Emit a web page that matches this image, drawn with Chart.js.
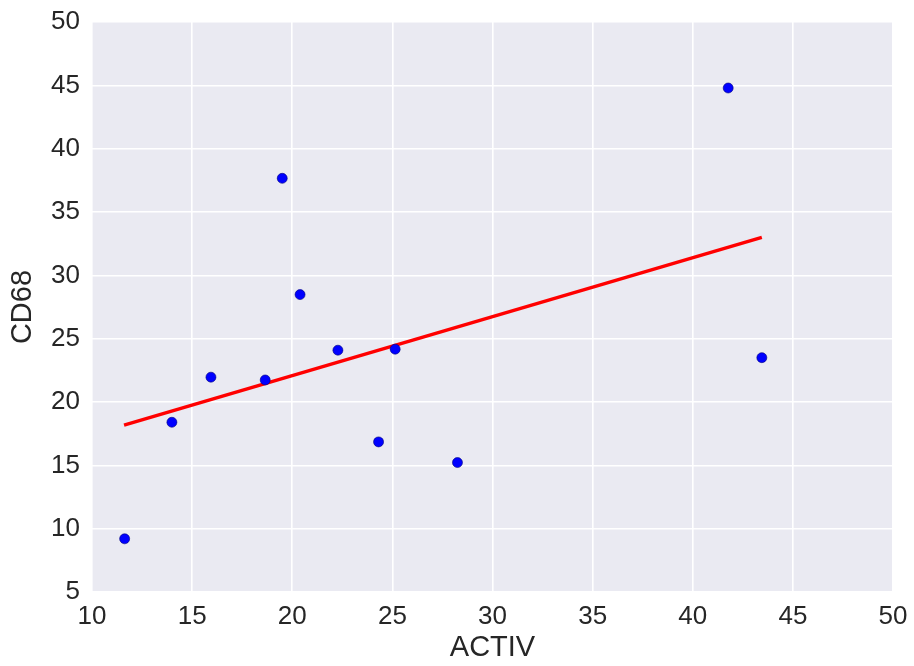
<!DOCTYPE html>
<html>
<head>
<meta charset="utf-8">
<script src="https://cdn.jsdelivr.net/npm/chart.js@4/dist/chart.umd.min.js"></script>
<style>
  html, body { margin: 0; padding: 0; background: #fff; }
  #wrap { width: 914px; height: 666px; }
</style>
</head>
<body>
<div id="wrap"><canvas id="chart" width="914" height="666"></canvas></div>
<script>
// values
const activValues = [11.63, 13.99, 15.94, 18.65, 19.50, 20.39, 22.28, 24.31, 25.14, 28.25, 41.77, 43.45];
const cd68Values = [9.2, 18.4, 21.96, 21.74, 37.66, 28.48, 24.09, 16.85, 24.17, 15.22, 44.79, 23.5];

// fitted line endpoints
const fitX = [11.6, 43.45];
const fitY = [18.17, 33.0];

const xTicks = [10, 15, 20, 25, 30, 35, 40, 45, 50];
const yTicks = [5, 10, 15, 20, 25, 30, 35, 40, 45, 50];

const FONT = '"Liberation Sans", Arial, sans-serif';
const TEXT = '#262626';

const plotBackground = {
  id: 'plotBackground',
  beforeDraw(chart) {
    const { ctx, chartArea } = chart;
    ctx.save();
    ctx.fillStyle = '#eaeaf2';
    ctx.fillRect(chartArea.left, chartArea.top, chartArea.right - chartArea.left, chartArea.bottom - chartArea.top);
    ctx.restore();
  }
};

const scatterPoints = activValues.map((x, i) => ({ x, y: cd68Values[i] }));
const fitPoints = fitX.map((x, i) => ({ x, y: fitY[i] }));

new Chart(document.getElementById('chart'), {
  type: 'scatter',
  data: {
    datasets: [
      {
        label: 'fit',
        type: 'line',
        data: fitPoints,
        borderColor: '#ff0000',
        borderWidth: 3.5,
        pointRadius: 0,
        fill: false,
        order: 2
      },
      {
        label: 'points',
        data: scatterPoints,
        backgroundColor: '#0000ff',
        borderColor: '#00007a',
        borderWidth: 0.6,
        pointRadius: 5,
        order: 1
      }
    ]
  },
  options: {
    responsive: false,
    animation: false,
    layout: { padding: { top: 22, right: 21, left: 0, bottom: 0 } },
    plugins: {
      legend: { display: false },
      tooltip: { enabled: false }
    },
    scales: {
      x: {
        type: 'linear',
        min: 10,
        max: 50,
        afterBuildTicks: (scale) => { scale.ticks = xTicks.map((v) => ({ value: v })); },
        afterFit: (scale) => {
          scale.height = 74;
          scale.paddingLeft = 0;
          scale.paddingRight = 0;
        },
        grid: { color: '#ffffff', lineWidth: 1.6, drawTicks: false },
        border: { display: false },
        ticks: { color: TEXT, font: { family: FONT, size: 26 }, padding: 9, maxRotation: 0 },
        title: { display: true, text: 'ACTIV', color: TEXT, font: { family: FONT, size: 29 }, padding: { top: 0, bottom: 1 } }
      },
      y: {
        type: 'linear',
        min: 5,
        max: 50,
        afterBuildTicks: (scale) => { scale.ticks = yTicks.map((v) => ({ value: v })); },
        afterFit: (scale) => {
          scale.width = 92;
          scale.paddingTop = 0;
          scale.paddingBottom = 0;
        },
        grid: { color: '#ffffff', lineWidth: 1.6, drawTicks: false },
        border: { display: false },
        ticks: { color: TEXT, font: { family: FONT, size: 26 }, padding: 12 },
        title: { display: true, text: 'CD68', color: TEXT, font: { family: FONT, size: 29 }, padding: { top: 6, bottom: 0 } }
      }
    }
  },
  plugins: [plotBackground]
});
</script>
</body>
</html>
